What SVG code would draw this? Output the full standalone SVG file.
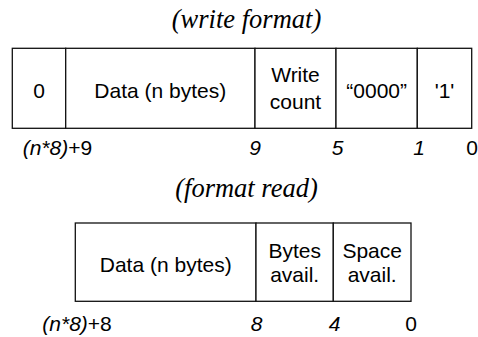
<svg xmlns="http://www.w3.org/2000/svg" width="478" height="337" viewBox="0 0 478 337">
<style>
.t{font-family:"Liberation Serif","Times New Roman",serif;font-style:italic;font-size:26.5px;fill:#000;text-anchor:middle}
.c{font-family:"Liberation Sans",Arial,sans-serif;font-size:21px;fill:#000;text-anchor:middle}
.b{font-family:"Liberation Sans",Arial,sans-serif;font-size:21px;fill:#000}
.i{font-style:italic}
.box{fill:#fff;stroke:#111;stroke-width:1.3}
</style>
<rect width="478" height="337" fill="#fff"/>
<text class="t" x="246.5" y="28">(write format)</text>
<text class="t" x="246.5" y="196.5">(format read)</text>
<g id="write">
<g id="w0"><rect class="box" x="12.3" y="48.3" width="53.4" height="80"/><text class="c" x="39" y="97.5">0</text></g>
<g id="wdata"><rect class="box" x="65.7" y="48.3" width="189.3" height="80"/><text class="c" x="160.3" y="97.5">Data (n bytes)</text></g>
<g id="wcount"><rect class="box" x="255" y="48.3" width="81" height="80"/><text class="c" x="295.5" y="82.3">Write</text><text class="c" x="295.5" y="109">count</text></g>
<g id="w0000"><rect class="box" x="336" y="48.3" width="81.3" height="80"/><text class="c" x="376.7" y="97.5">“0000”</text></g>
<g id="w1"><rect class="box" x="417.3" y="48.3" width="54.4" height="80"/><text class="c" x="444.5" y="97.5">'1'</text></g>
</g>
<g id="read">
<g id="rdata"><rect class="box" x="75.3" y="223" width="180.7" height="78.3"/><text class="c" x="165.7" y="271.7">Data (n bytes)</text></g>
<g id="rbytes"><rect class="box" x="256" y="223" width="77.3" height="78.3"/><text class="c" x="294.7" y="257.7">Bytes</text><text class="c" x="294.7" y="281.7">avail.</text></g>
<g id="rspace"><rect class="box" x="333.3" y="223" width="77.7" height="78.3"/><text class="c" x="372.2" y="257.7">Space</text><text class="c" x="372.2" y="281.7">avail.</text></g>
</g>
<g id="bits">
<text class="b" x="22.7" y="155"><tspan class="i">(n*8)</tspan>+9</text>
<text class="c i" x="255" y="155">9</text>
<text class="c i" x="337.5" y="155">5</text>
<text class="c i" x="419" y="155">1</text>
<text class="c" x="472" y="155">0</text>
<text class="b" x="42.3" y="331"><tspan class="i">(n*8)</tspan>+8</text>
<text class="c i" x="256.7" y="331">8</text>
<text class="c i" x="334.5" y="331">4</text>
<text class="c" x="411" y="331">0</text>
</g>
</svg>
